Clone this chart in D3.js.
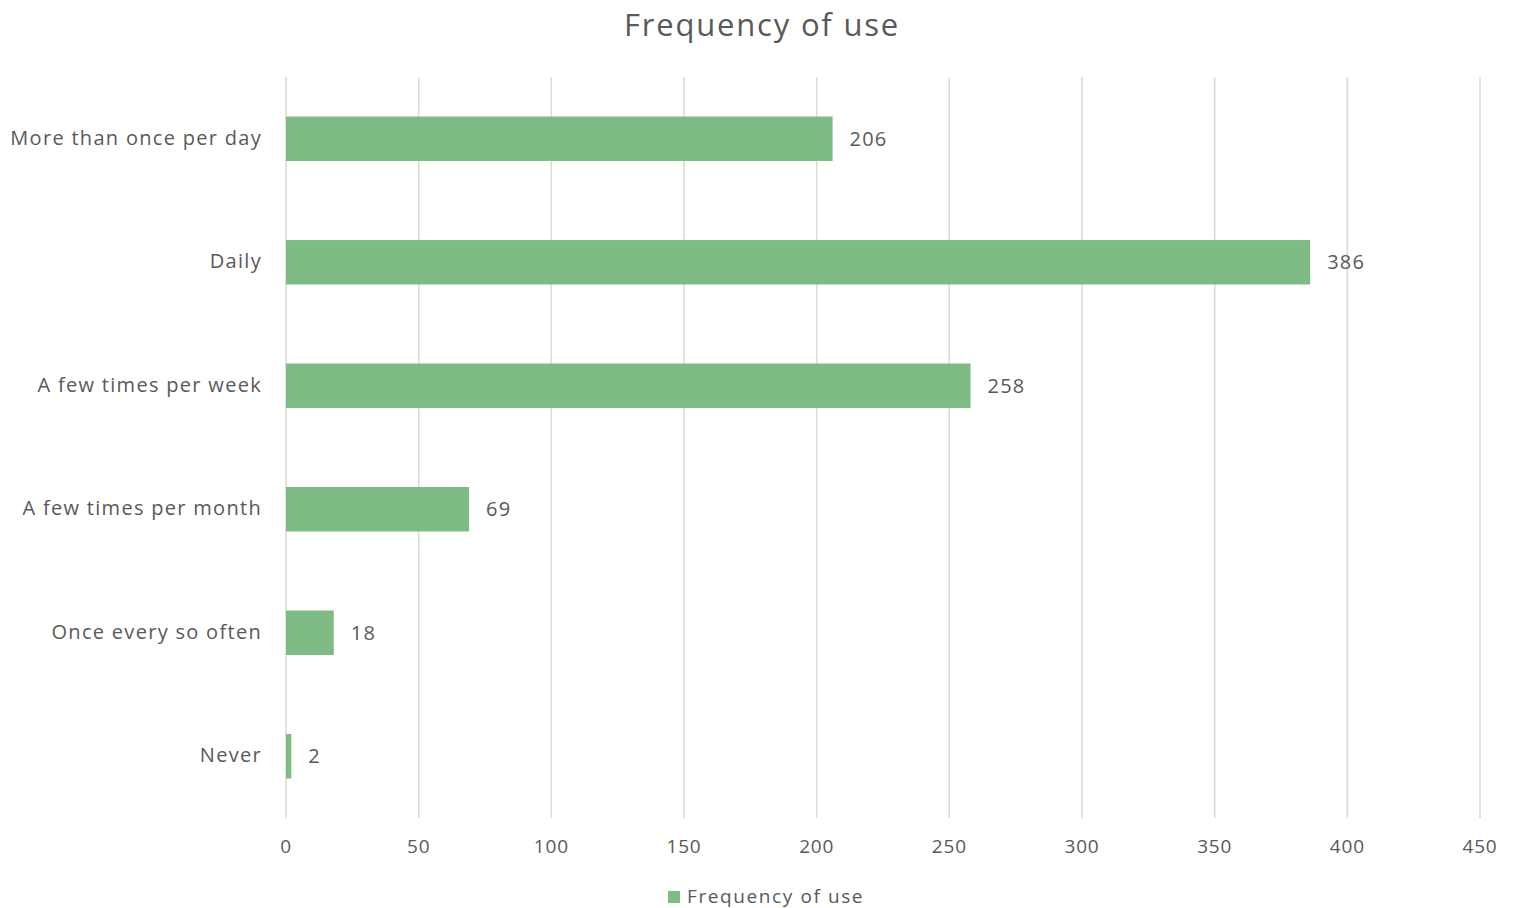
<!DOCTYPE html>
<html><head><meta charset="utf-8">
<script src="https://cdn.jsdelivr.net/npm/d3@7"></script>
<style>body{margin:0;background:#fff}svg{display:block}text{font-family:"Open Sans",sans-serif;fill:#595959}</style>
</head><body><svg id="c" width="1517" height="908"></svg>
<script>
const categories = ["More than once per day","Daily","A few times per week","A few times per month","Once every so often","Never"];
const values = [206,386,258,69,18,2];
const ticks = [0,50,100,150,200,250,300,350,400,450];
const seriesName = "Frequency of use";

const svg = d3.select("#c");
const m = {left:286, right:1480, top:77, bottom:818};
const x = d3.scaleLinear().domain([0,450]).range([m.left,m.right]);
const y = d3.scaleBand().domain(categories).range([m.top,m.bottom]).paddingInner(0.64).paddingOuter(0.32);

svg.append("g").selectAll("line").data(ticks).join("line")
  .attr("x1",d=>x(d)).attr("x2",d=>x(d)).attr("y1",m.top).attr("y2",m.bottom)
  .attr("stroke","#d9d9d9").attr("stroke-width",1.5);

svg.append("g").selectAll("text").data(ticks).join("text")
  .attr("x",d=>x(d)).attr("y",853).attr("text-anchor","middle")
  .style("font-size","19px").style("letter-spacing","0.8px").text(d=>d);

svg.append("g").selectAll("rect").data(values).join("rect")
  .attr("x",x(0)).attr("y",(d,i)=>y(categories[i]))
  .attr("width",d=>x(d)-x(0)).attr("height",y.bandwidth()).attr("fill","#7fbb84");

svg.append("g").selectAll("text").data(values).join("text")
  .attr("x",d=>x(d)+17).attr("y",(d,i)=>y(categories[i])+y.bandwidth()/2+7)
  .style("font-size","20px").style("letter-spacing","1.2px").text(d=>d);

svg.append("g").selectAll("text").data(categories).join("text")
  .attr("x",262).attr("y",d=>y(d)+y.bandwidth()/2+6).attr("text-anchor","end")
  .style("font-size","20px").style("letter-spacing","1.3px").text(d=>d);

svg.append("text").attr("x",762).attr("y",36).attr("text-anchor","middle")
  .style("font-size","31px").style("letter-spacing","1.8px").text(seriesName);

svg.append("rect").attr("x",668).attr("y",891).attr("width",12).attr("height",12).attr("fill","#7fbb84");
svg.append("text").attr("x",687).attr("y",903).style("font-size","19px").style("letter-spacing","1.6px").text(seriesName);
</script></body></html>
